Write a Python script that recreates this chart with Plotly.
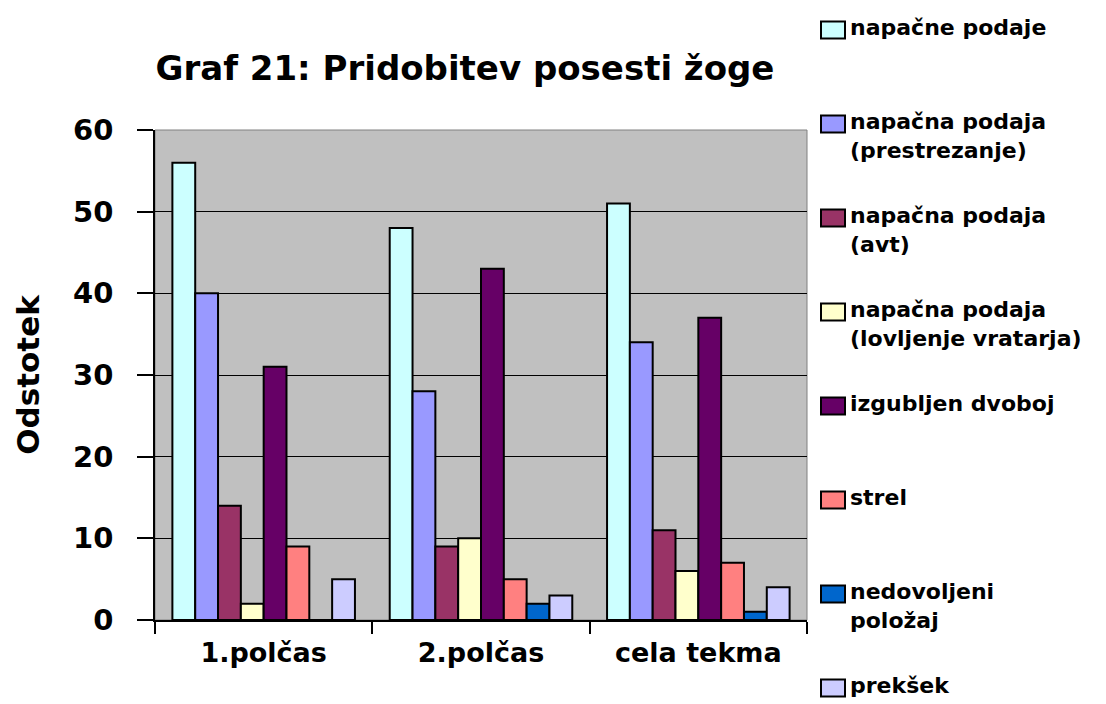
import plotly.graph_objects as go

categories = ["1.polčas", "2.polčas", "cela tekma"]
series_names = [
    "napačne podaje",
    "napačna podaja<br>(prestrezanje)",
    "napačna podaja<br>(avt)",
    "napačna podaja<br>(lovljenje vratarja)",
    "izgubljen dvoboj",
    "strel",
    "nedovoljeni<br>položaj",
    "prekšek",
]
napacne_podaje = [56, 48, 51]
prestrezanje = [40, 28, 34]
avt = [14, 9, 11]
lovljenje_vratarja = [2, 10, 6]
izgubljen_dvoboj = [31, 43, 37]
strel = [9, 5, 7]
nedovoljeni_polozaj = [0, 2, 1]
preksek = [5, 3, 4]
series_values = [napacne_podaje, prestrezanje, avt, lovljenje_vratarja,
                 izgubljen_dvoboj, strel, nedovoljeni_polozaj, preksek]
colors = ["#CCFFFF", "#9999FF", "#993366", "#FFFFCC",
          "#660066", "#FF8080", "#0066CC", "#CCCCFF"]
y_ticks = [0, 10, 20, 30, 40, 50, 60]

FONT = "DejaVu Sans"

# figure geometry (page has an 8px body margin)
W, H = 1098, 696
ML, MT, PW, PH = 147, 122, 652, 490
MR = W - ML - PW
MB = H - MT - PH


def px_x(px):
    return (px - ML) / PW


def px_y(py):
    return (MT + PH - py) / PH


fig = go.Figure()
for name, vals, col in zip(series_names, series_values, colors):
    fig.add_trace(go.Bar(
        x=categories, y=vals, name=name, showlegend=False,
        marker=dict(color=col, line=dict(color="black", width=2)),
    ))

# hand-built legend on the right
LEG_FONT = 22
first_center, pitch = 22, 94
sq_x0, sq_x1, sq_h = 813, 837, 17
text_x = 840
for i, (name, col) in enumerate(zip(series_names, colors)):
    cy = first_center + i * pitch
    fig.add_shape(type="rect", xref="paper", yref="paper",
                  x0=px_x(sq_x0), x1=px_x(sq_x1),
                  y0=px_y(cy + sq_h / 2), y1=px_y(cy - sq_h / 2),
                  fillcolor=col, line=dict(color="black", width=2))
    fig.add_annotation(text=name, xref="paper", yref="paper",
                       x=px_x(text_x), y=px_y(cy - LEG_FONT * 0.72 - 1),
                       xanchor="left", yanchor="top", align="left",
                       showarrow=False,
                       font=dict(family=FONT, size=LEG_FONT, weight="bold", color="black"))

fig.update_layout(
    width=W, height=H,
    barmode="group", bargap=0.16, bargroupgap=0,
    paper_bgcolor="white", plot_bgcolor="#C0C0C0",
    margin=dict(l=ML, r=MR, t=MT, b=MB),
    font=dict(family=FONT, color="black"),
    title=dict(text="Graf 21: Pridobitev posesti žoge",
               font=dict(family=FONT, size=34, weight="bold", color="black"),
               xref="container", x=457 / W, xanchor="center",
               yref="container", y=1 - 60 / H, yanchor="middle"),
    showlegend=False,
)
fig.update_xaxes(
    showline=True, linecolor="black", linewidth=1.5,
    ticks="outside", tickson="boundaries", ticklen=12, tickcolor="black", tickwidth=1.5,
    tickfont=dict(family=FONT, size=27, weight="bold", color="black"),
    ticklabelstandoff=8,
    showgrid=False,
)
fig.update_yaxes(
    range=[0, 60], tickvals=y_ticks,
    showline=True, linecolor="black", linewidth=1.5,
    ticks="outside", ticklen=16, tickcolor="black", tickwidth=1.5,
    tickfont=dict(family=FONT, size=29, weight="bold", color="black"),
    ticklabelstandoff=18,
    showgrid=True, gridcolor="black", gridwidth=1,
    zeroline=False,
    title=dict(text="Odstotek", font=dict(family=FONT, size=31, weight="bold", color="black"),
               standoff=24),
)
fig.add_shape(type="rect", xref="paper", yref="paper", x0=0, x1=1, y0=0, y1=1,
              line=dict(color="#808080", width=1), layer="below")
fig.write_html("out.html")
